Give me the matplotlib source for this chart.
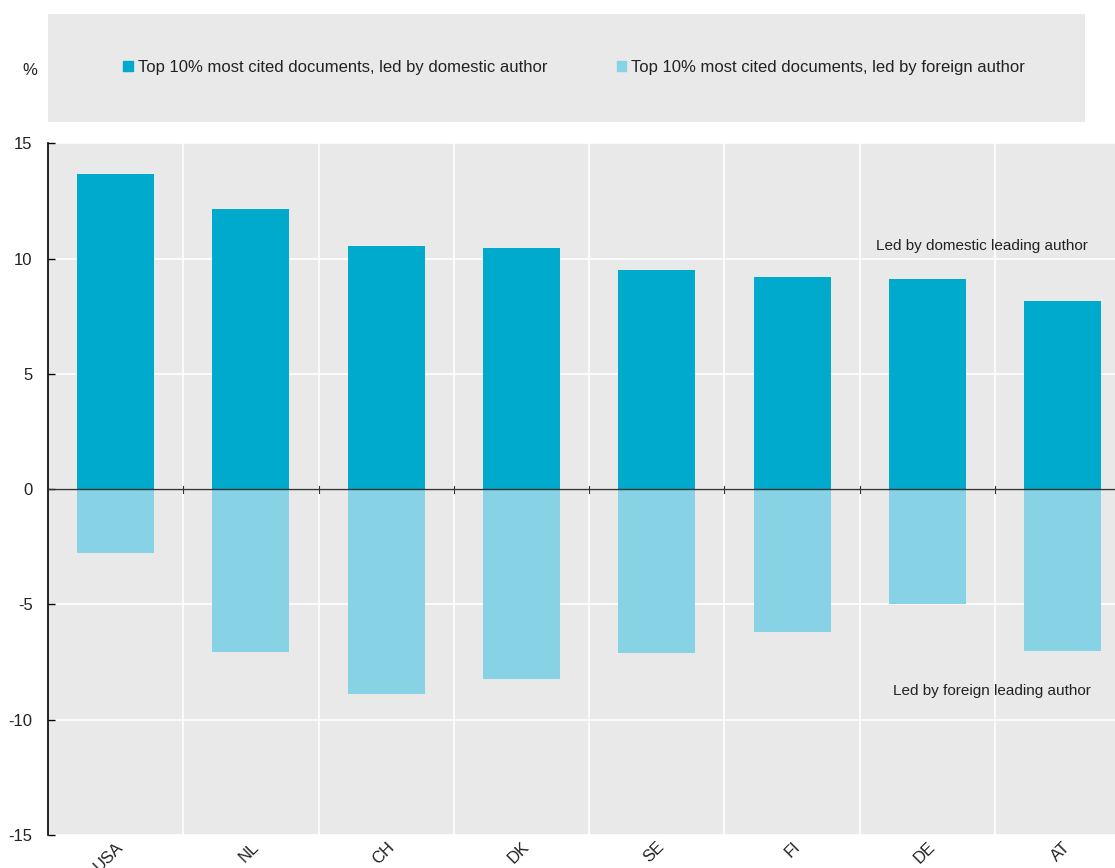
import matplotlib
matplotlib.use('Agg')
import matplotlib.pyplot as plt
from matplotlib.patches import Rectangle, Patch
import numpy as np

plt.rcParams['font.family'] = ['Liberation Sans', 'DejaVu Sans']

countries = ['USA', 'NL', 'CH', 'DK', 'SE', 'FI', 'DE', 'AT']
domestic = [13.65, 12.14, 10.53, 10.45, 9.49, 9.19, 9.10, 8.15]
foreign = [-2.77, -7.07, -8.89, -8.24, -7.11, -6.20, -4.98, -7.02]

c_dom = '#00AACC'
c_for = '#87D2E4'
bg = '#E9E9E9'
txt = '#222222'

fig = plt.figure(figsize=(11.15, 8.68), dpi=100)
ax = fig.add_axes([0.043, 0.038, 0.957, 0.797])
ax.set_facecolor(bg)

x = np.arange(len(countries))
ax.bar(x, domestic, width=0.57, color=c_dom, zorder=3)
ax.bar(x, foreign, width=0.57, color=c_for, zorder=3)

ax.set_xlim(-0.5, 7.386)
ax.set_ylim(-15, 15)
ax.set_yticks([-15, -10, -5, 0, 5, 10, 15])
ax.set_yticklabels(['-15', '-10', '-5', '0', '5', '10', '15'])
ax.yaxis.grid(True, color='white', lw=1.2, zorder=1)
# separators between categories
for s in x[:-1] + 0.5:
    ax.axvline(s, color='white', lw=1.2, zorder=1)
    ax.plot([s, s], [-0.15, 0.15], color='#333333', lw=0.8, zorder=4)
ax.axhline(0, color='#333333', lw=1, zorder=4)

ax.set_xticks(x)
ax.set_xticklabels(countries, rotation=45, ha='right', rotation_mode='anchor')
ax.tick_params(axis='x', length=0, pad=3, labelsize=12, labelcolor=txt)
ax.tick_params(axis='y', direction='in', length=5, width=1, labelsize=12,
               labelcolor=txt, pad=11)
for side in ['top', 'right', 'bottom']:
    ax.spines[side].set_visible(False)
ax.spines['left'].set_linewidth(1.2)

ax.text(6.4, 10.55, 'Led by domestic leading author', fontsize=11,
        ha='center', va='center', color=txt, zorder=5)
ax.text(6.48, -8.75, 'Led by foreign leading author', fontsize=11,
        ha='center', va='center', color=txt, zorder=5)

# legend box
fig.patches.append(Rectangle((0.043, 0.859), 0.930, 0.125, transform=fig.transFigure,
                             facecolor=bg, edgecolor='none', zorder=0))
fig.text(0.027, 0.919, '%', fontsize=12, ha='center', va='center', color=txt)
handles = [Patch(color=c_dom), Patch(color=c_for)]
fig.legend(handles, ['Top 10% most cited documents, led by domestic author',
                     'Top 10% most cited documents, led by foreign author'],
           loc='center', bbox_to_anchor=(0.515, 0.922), ncol=2, frameon=False,
           fontsize=12, handlelength=0.55, handleheight=0.55, handletextpad=0.3,
           columnspacing=4.2, labelcolor=txt)

fig.savefig('out.png', dpi=100)
